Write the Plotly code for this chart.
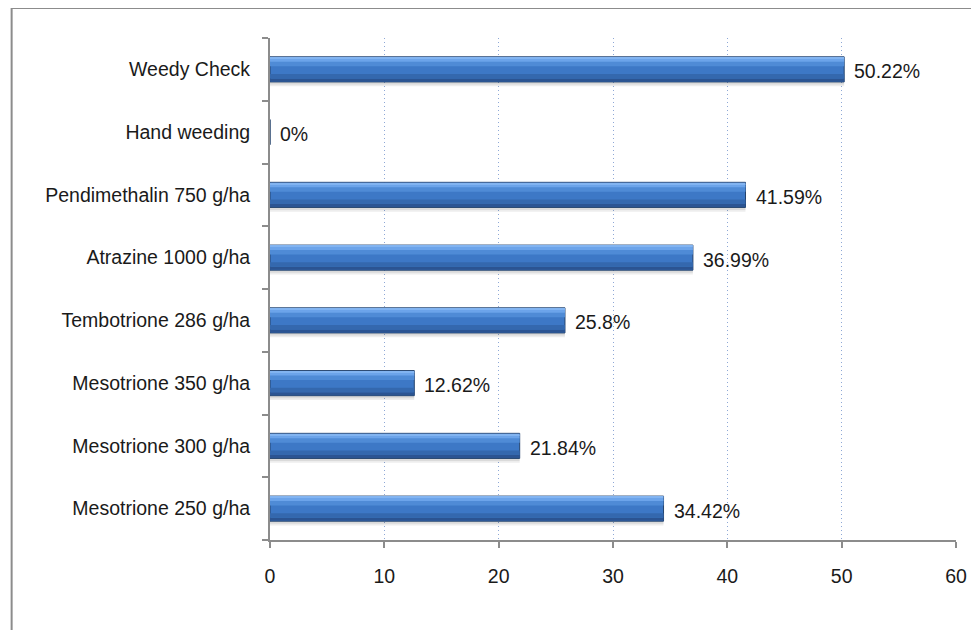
import plotly.graph_objects as go

categories = ["Mesotrione 250 g/ha", "Mesotrione 300 g/ha", "Mesotrione 350 g/ha",
              "Tembotrione 286 g/ha", "Atrazine 1000 g/ha", "Pendimethalin 750 g/ha",
              "Hand weeding", "Weedy Check"]
values = [34.42, 21.84, 12.62, 25.8, 36.99, 41.59, 0, 50.22]
labels = ["34.42%", "21.84%", "12.62%", "25.8%", "36.99%", "41.59%", "0%", "50.22%"]
x_ticks = [0, 10, 20, 30, 40, 50, 60]

# page has an 8px body margin; figure sized so it fits the 979x630 window
W, H = 971, 622
L, R, T, B = 262, 16, 30, 90
pw, ph = W - L - R, H - T - B

FONT = "Liberation Sans"
FS = 19.5

fig = go.Figure()
# soft shadow
fig.add_trace(go.Bar(y=categories, x=values, orientation="h", width=0.44, offset=-0.27,
                     marker=dict(color="rgba(0,0,0,0.07)", line=dict(width=0)),
                     hoverinfo="skip", showlegend=False))
fig.add_trace(go.Bar(y=categories, x=values, orientation="h", width=0.42, offset=-0.24,
                     marker=dict(color="rgba(0,0,0,0.08)", line=dict(width=0)),
                     hoverinfo="skip", showlegend=False))
# main bar
fig.add_trace(go.Bar(y=categories, x=values, orientation="h", width=0.4, offset=-0.2,
                     marker=dict(color="#3d78c6", line=dict(color="#25436c", width=1)),
                     showlegend=False))
# gradient bands (style only, same data)
bands = [(-0.195, 0.05, "#2b5492"), (-0.145, 0.07, "#3468ae"),
         (0.05, 0.08, "#4f8bd6"), (0.12, 0.05, "#6ca4ea"), (0.17, 0.025, "#82b4f1")]
for off, wd, col in bands:
    fig.add_trace(go.Bar(y=categories, x=values, orientation="h", width=wd, offset=off,
                         marker=dict(color=col, line=dict(width=0)),
                         hoverinfo="skip", showlegend=False))

annotations = [dict(x=v, y=c, text=t, xref="x", yref="y", xanchor="left", yanchor="middle",
                    xshift=8, yshift=-2, showarrow=False,
                    font=dict(family=FONT, size=FS, color="#1a1a1a"))
               for c, v, t in zip(categories, values, labels)]

fig.update_layout(
    width=W, height=H, barmode="overlay",
    margin=dict(l=L, r=R, t=T, b=B),
    paper_bgcolor="white", plot_bgcolor="white",
    font=dict(family=FONT, size=FS, color="#1a1a1a"),
    annotations=annotations,
    xaxis=dict(range=[0, 60], tickvals=x_ticks, showgrid=True,
               gridcolor="#8ea8d6", griddash="1px,3px", gridwidth=1,
               showline=True, linecolor="#8c8c8c", linewidth=2,
               ticks="outside", ticklen=6, tickcolor="#8c8c8c", tickwidth=2,
               ticklabelstandoff=12, zeroline=False, fixedrange=True),
    yaxis=dict(type="category", categoryorder="array", categoryarray=categories,
               range=[-0.5, 7.5], showgrid=False, showline=True,
               linecolor="#8c8c8c", linewidth=2, ticks="outside",
               tickson="boundaries", ticklen=6, tickcolor="#8c8c8c", tickwidth=2,
               ticklabelstandoff=14, fixedrange=True),
    shapes=[dict(type="rect", xref="paper", yref="paper",
                 x0=(1 - L) / pw, x1=1.2, y0=-0.5, y1=(H - B - 0) / ph,
                 line=dict(color="#8c8c8c", width=2), layer="below")],
)

fig.write_html("out.html")
